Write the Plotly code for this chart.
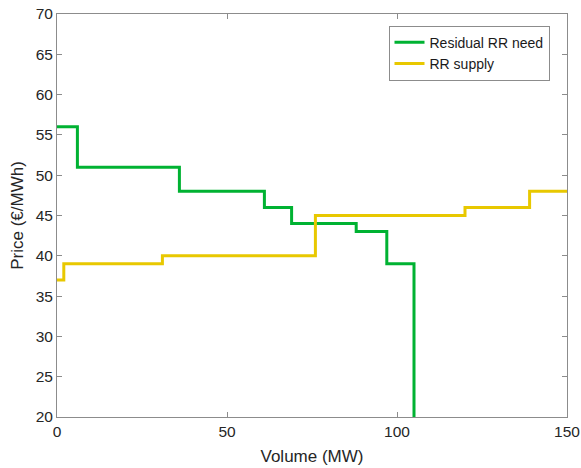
import plotly.graph_objects as go

# Residual RR need (step starts)
need_volume = [0, 6, 36, 61, 69, 88, 97, 105]
need_price = [56, 51, 48, 46, 44, 43, 39, 0]

# RR supply (step starts)
supply_volume = [0, 2, 31, 76, 120, 139, 150]
supply_price = [37, 39, 40, 45, 46, 48, 48]

x_ticks = [0, 50, 100, 150]
y_ticks = [20, 25, 30, 35, 40, 45, 50, 55, 60, 65, 70]

fig = go.Figure()
fig.add_trace(go.Scatter(x=need_volume, y=need_price, mode="lines", line_shape="hv",
                         name="Residual RR need", line=dict(color="#00B232", width=3)))
fig.add_trace(go.Scatter(x=supply_volume, y=supply_price, mode="lines", line_shape="hv",
                         name="RR supply", line=dict(color="#E8C800", width=3)))

axis_common = dict(showline=True, linecolor="#8c8c8c", linewidth=1, mirror="ticks",
                   ticks="inside", ticklen=5, tickcolor="#8c8c8c", showgrid=False,
                   zeroline=False, automargin=False,
                   tickfont=dict(size=15.5, color="#262626"),
                   title_font=dict(size=17, color="#262626"))

fig.update_xaxes(range=[0, 150], tickvals=x_ticks, title_text="Volume (MW)",
                 title_standoff=11, **axis_common)
fig.update_yaxes(range=[20, 70], tickvals=y_ticks, title_text="Price (€/MWh)",
                 title_standoff=7, **axis_common)

fig.update_layout(
    width=581, height=468,
    margin=dict(l=57, r=14, t=14, b=51, autoexpand=False),
    plot_bgcolor="white", paper_bgcolor="white",
    font=dict(family="Liberation Sans, Arial, sans-serif", color="#262626"),
    legend=dict(x=0.65, y=0.971, xanchor="left", yanchor="top",
                bordercolor="#8c8c8c", borderwidth=1, bgcolor="white",
                font=dict(size=14, color="#1a1a1a"), tracegroupgap=0,
                itemwidth=30),
    showlegend=True,
)

fig.write_html("out.html", config={"displayModeBar": False},
               post_script="document.body.style.margin='0';")
